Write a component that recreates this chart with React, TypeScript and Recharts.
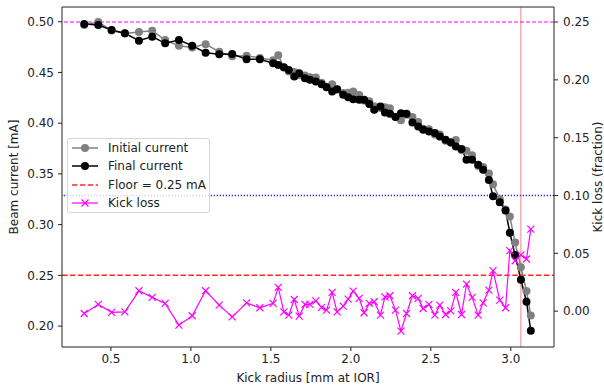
import React from 'react'
import { ComposedChart, Line, XAxis, YAxis, ReferenceLine, Legend } from 'recharts'

const kickRadius = [
  0.333, 0.421, 0.504, 0.587, 0.675, 0.758, 0.839, 0.925, 1.008, 1.092, 1.177, 1.258, 1.348, 1.431, 1.514,
  1.546, 1.581, 1.612, 1.646, 1.677, 1.713, 1.744, 1.781, 1.817, 1.848, 1.883, 1.914,
  1.952, 1.983, 2.015, 2.052, 2.083, 2.115, 2.146, 2.185, 2.213, 2.244,
  2.279, 2.313, 2.348, 2.385, 2.421, 2.452, 2.488, 2.525, 2.556, 2.592,
  2.625, 2.656, 2.692, 2.723, 2.758, 2.796, 2.827, 2.863, 2.889, 2.931,
  2.967, 2.994, 3.027, 3.063, 3.098, 3.125,
]

const initialCurrent = [
  0.4967, 0.4997, 0.4913, 0.4883, 0.4899, 0.4911, 0.4819, 0.4762, 0.4745, 0.4779, 0.4703, 0.4659, 0.4664, 0.4643, 0.4621,
  0.467, 0.4549, 0.4509, 0.4504, 0.4473, 0.4469, 0.4453, 0.445, 0.4398, 0.4359, 0.4383, 0.4332,
  0.4297, 0.4301, 0.4312, 0.4277, 0.4224, 0.4216, 0.4166, 0.4149, 0.4157, 0.4147,
  0.4064, 0.4028, 0.4084, 0.4061, 0.4012, 0.3944, 0.3941, 0.3889, 0.3889, 0.3826,
  0.3811, 0.3833, 0.3734, 0.3727, 0.3684, 0.3578, 0.3568, 0.3504, 0.3398, 0.3251,
  0.3149, 0.3081, 0.2823, 0.2581, 0.2346, 0.2104,
]

const finalCurrent = [
  0.4977, 0.4968, 0.4918, 0.4886, 0.4813, 0.4853, 0.4787, 0.482, 0.4764, 0.4695, 0.4679, 0.4682, 0.463, 0.463, 0.459,
  0.4574, 0.4552, 0.4525, 0.4459, 0.4492, 0.4443, 0.4427, 0.441, 0.4384, 0.4355, 0.4312, 0.4335,
  0.4279, 0.4256, 0.4237, 0.423, 0.423, 0.4188, 0.4132, 0.4164, 0.4105, 0.4092,
  0.406, 0.4099, 0.4092, 0.4007, 0.3968, 0.3935, 0.3918, 0.3903, 0.3869, 0.3837,
  0.381, 0.3771, 0.3745, 0.364, 0.364, 0.3591, 0.3542, 0.344, 0.3279, 0.322,
  0.314, 0.292, 0.27, 0.2456, 0.224, 0.1955,
]

const kickLoss = [
  -0.002, 0.0058, -0.001, -0.0006, 0.0176, 0.0119, 0.0067, -0.0121, -0.004, 0.0176, 0.0052, -0.005, 0.0072, 0.0029, 0.0067,
  0.0205, -0.0006, -0.0035, 0.0101, -0.0043, 0.0058, 0.0058, 0.0089, 0.0032, 0.0009, 0.0162, -0.0006,
  0.0043, 0.0104, 0.0173, 0.011, -0.0014, 0.0067, 0.0081, -0.0035, 0.0124, 0.0133,
  0.0009, -0.0173, -0.002, 0.0133, 0.011, 0.0023, 0.0058, -0.0035, 0.0052, -0.0029,
  0.0003, 0.0162, -0.0029, 0.0234, 0.0119, -0.0035, 0.0072, 0.0182, 0.035, 0.0095,
  0.0029, 0.0523, 0.0436, 0.0486, 0.0451, 0.0709,
]

const xTicks = [0.5, 1.0, 1.5, 2.0, 2.5, 3.0]
const currentTicks = [0.2, 0.25, 0.3, 0.35, 0.4, 0.45, 0.5]
const lossTicks = [0, 0.05, 0.1, 0.15, 0.2, 0.25]

const floorCurrent = 0.25
const lossLimit = 0.25
const lossWarn = 0.1
const kickCutoff = 3.063

const xDomain = [0.194, 3.27]
const currentDomain = [0.1794, 0.5145]
const lossDomain = [-0.031, 0.263]

const data = kickRadius.map((r, i) => ({
  r,
  initial: initialCurrent[i],
  final: finalCurrent[i],
  loss: kickLoss[i],
}))

const FONT = 'DejaVu Sans, sans-serif'
const tickStyle = { fontSize: 12, fill: '#222', fontFamily: FONT }

function XMark(props: any) {
  const { cx, cy, index } = props
  if (cx == null || cy == null) return <g key={`xm-${index}`} />
  const s = 3.5
  return (
    <path key={`xm-${index}`}
      d={`M${cx - s},${cy - s}L${cx + s},${cy + s}M${cx - s},${cy + s}L${cx + s},${cy - s}`}
      stroke="#ff00ff" strokeWidth={1.2} fill="none" />
  )
}

function VTitle({ viewBox, text, dx }: any) {
  const x = viewBox.x + dx
  const y = viewBox.y + viewBox.height / 2
  return (
    <text x={x} y={y} transform={`rotate(-90, ${x}, ${y})`} textAnchor="middle"
      dominantBaseline="central" fontSize={12} fill="#222" fontFamily={FONT}>
      {text}
    </text>
  )
}

function XTitle({ viewBox }: any) {
  return (
    <text x={viewBox.x + viewBox.width / 2} y={382} textAnchor="middle"
      fontSize={12} fill="#222" fontFamily={FONT}>
      Kick radius [mm at IOR]
    </text>
  )
}

function LegendBox() {
  const rows = [
    { label: 'Initial current', kind: 'dot', color: '#808080' },
    { label: 'Final current', kind: 'dot', color: '#000' },
    { label: 'Floor = 0.25 mA', kind: 'dash', color: '#ff2a2a' },
    { label: 'Kick loss', kind: 'x', color: '#ff00ff' },
  ]
  return (
    <div style={{
      width: 143, height: 75, boxSizing: 'border-box', border: '1px solid #d6d6d6',
      borderRadius: 3, background: 'rgba(255,255,255,0.8)', fontFamily: FONT, fontSize: 12, color: '#222',
    }}>
      {rows.map((row) => (
        <div key={row.label} style={{ height: 18.3, display: 'flex', alignItems: 'center' }}>
          <svg width={40} height={18} style={{ flex: 'none' }}>
            {row.kind === 'dash' ? (
              <line x1={4} x2={30} y1={9} y2={9} stroke={row.color} strokeWidth={1.5} strokeDasharray="5.5 2.4" />
            ) : (
              <line x1={4} x2={30} y1={9} y2={9} stroke={row.color} strokeWidth={row.kind === 'x' ? 1.2 : 1.5} />
            )}
            {row.kind === 'dot' && <circle cx={17} cy={9} r={4} fill={row.color} />}
            {row.kind === 'x' && (
              <path d="M13.5,5.5L20.5,12.5M13.5,12.5L20.5,5.5" stroke={row.color} strokeWidth={1.2} />
            )}
          </svg>
          <span style={{ whiteSpace: 'nowrap' }}>{row.label}</span>
        </div>
      ))}
    </div>
  )
}

export default function App() {
  return (
    <div style={{ position: 'absolute', left: 0, top: 0, width: 604, height: 388, background: '#fff' }}>
      <ComposedChart width={604} height={388} data={data}
        margin={{ top: 7, right: 0, bottom: 0, left: 0 }}>
        <XAxis dataKey="r" type="number" domain={xDomain} ticks={xTicks} allowDataOverflow
          tickFormatter={(v) => v.toFixed(1)} tick={tickStyle} tickSize={4} tickMargin={3}
          height={41} stroke="#222" tickLine={{ stroke: '#222' }}
          label={<XTitle />} />
        <YAxis yAxisId="cur" domain={currentDomain} ticks={currentTicks} allowDataOverflow
          tickFormatter={(v) => v.toFixed(2)} tick={tickStyle} tickSize={4} tickMargin={4}
          width={62} stroke="#222" tickLine={{ stroke: '#222' }}
          label={<VTitle text="Beam current [mA]" dx={14} />} />
        <YAxis yAxisId="loss" orientation="right" domain={lossDomain} ticks={lossTicks} allowDataOverflow
          tickFormatter={(v) => v.toFixed(2)} tick={tickStyle} tickSize={4} tickMargin={5}
          width={50} stroke="#222" tickLine={{ stroke: '#222' }}
          label={<VTitle text="Kick loss (fraction)" dx={44} />} />

        <ReferenceLine yAxisId="cur" y={currentDomain[1]} stroke="#222" />
        <ReferenceLine yAxisId="cur" y={floorCurrent} stroke="#ff0000" strokeOpacity={0.85}
          strokeWidth={1.5} strokeDasharray="5.5 2.4" />

        <Line yAxisId="cur" dataKey="initial" stroke="#808080" strokeWidth={1.5}
          dot={{ r: 4, fill: '#808080', stroke: 'none' }} isAnimationActive={false} />
        <Line yAxisId="cur" dataKey="final" stroke="#000" strokeWidth={1.5}
          dot={{ r: 4, fill: '#000', stroke: 'none' }} isAnimationActive={false} />

        <ReferenceLine yAxisId="cur" x={kickCutoff} stroke="#ff0000" strokeOpacity={0.5} strokeWidth={1} />

        <ReferenceLine yAxisId="loss" y={lossLimit} stroke="#ff00ff" strokeOpacity={0.65}
          strokeWidth={1.5} strokeDasharray="4 2" />
        <ReferenceLine yAxisId="loss" y={lossWarn} stroke="#2a2aff"
          strokeWidth={1.3} strokeDasharray="1.3 1.7" />

        <Line yAxisId="loss" dataKey="loss" stroke="#ff00ff" strokeWidth={1.2}
          dot={(p: any) => <XMark {...p} />} isAnimationActive={false} />

        <Legend content={() => <LegendBox />} layout="horizontal" verticalAlign="middle" align="center"
          wrapperStyle={{ left: 67, top: 138, width: 143 }} />
      </ComposedChart>
    </div>
  )
}
